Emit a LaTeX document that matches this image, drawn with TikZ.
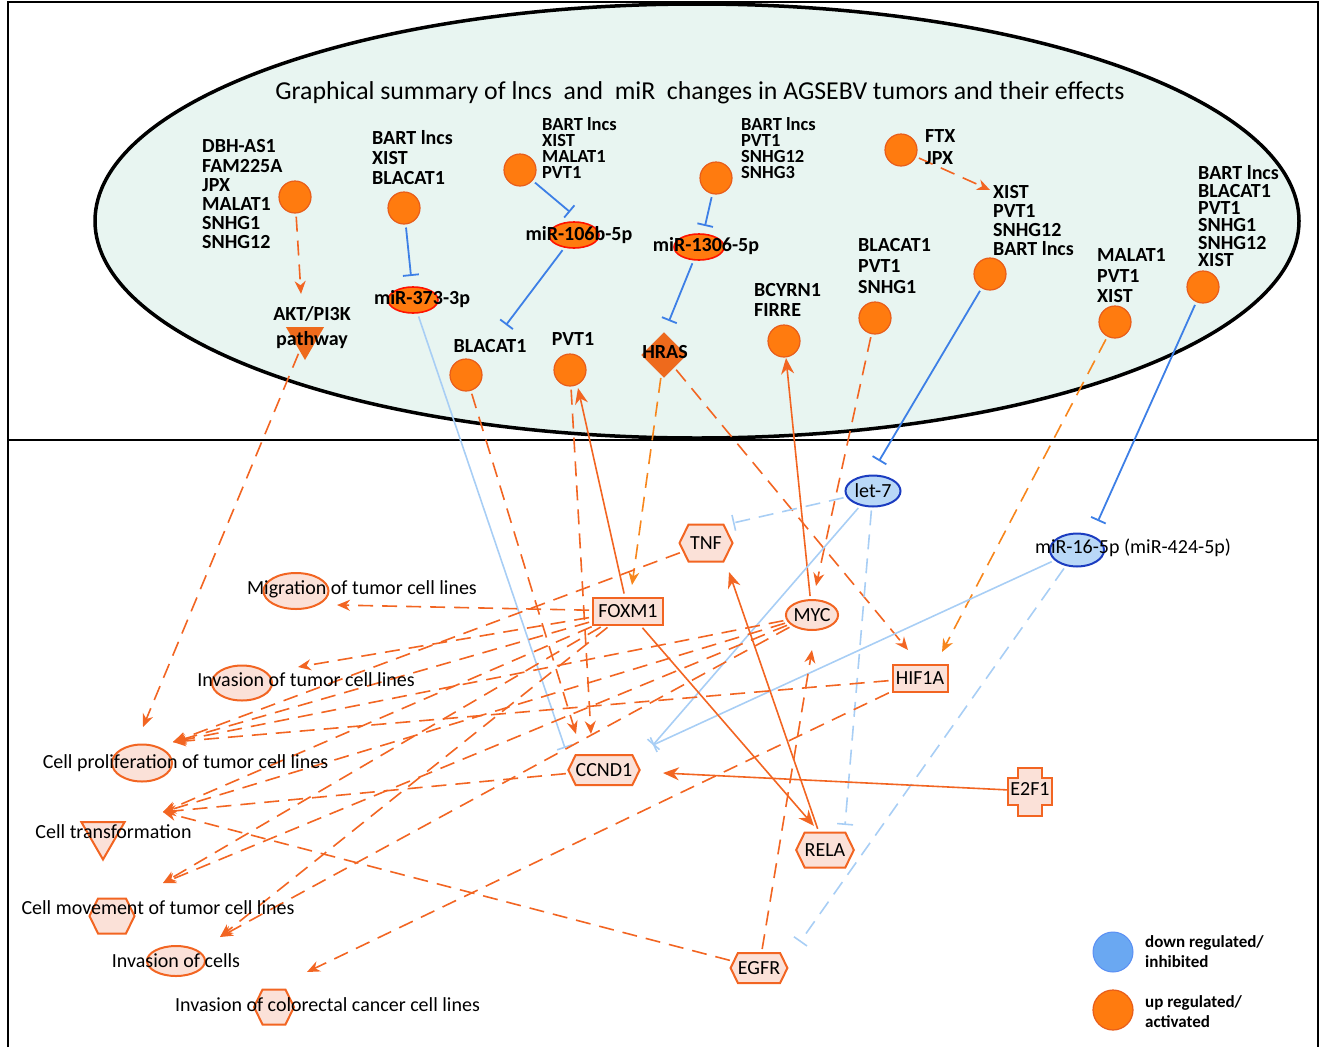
\documentclass[tikz,border=0pt]{standalone}
\usepackage{fontspec}
\setmainfont{Carlito}
\usetikzlibrary{arrows.meta,shapes.geometric,shapes.symbols}
\pgfdeclarelayer{bg}
\pgfdeclarelayer{edges}
\pgfsetlayers{bg,edges,main}
\definecolor{orline}{HTML}{F26522}
\definecolor{orlight}{HTML}{F7861C}
\definecolor{upfill}{HTML}{FF7B0F}
\definecolor{upedge}{HTML}{E85D1A}
\definecolor{nodefill}{HTML}{FBE1D8}
\definecolor{inhblue}{HTML}{3D7FE6}
\definecolor{inhlight}{HTML}{A8CEF5}
\definecolor{downfill}{HTML}{B9D8F7}
\definecolor{downedge}{HTML}{1B3CC0}
\definecolor{bubble}{HTML}{E8F5F1}
\definecolor{hrasfill}{HTML}{EE6A1C}
\definecolor{legblue}{HTML}{6AA8F2}

\begin{document}
\begin{tikzpicture}[x=1pt,y=-1pt,
  up/.style={circle,fill=upfill,draw=upedge,line width=1.2pt,minimum size=32pt,inner sep=0pt},
  mirna/.style={ellipse,fill=upfill,draw=red!85!orange,line width=1.6pt,minimum width=50pt,minimum height=26pt,inner sep=0pt},
  genes/.style={font=\fontsize{20}{#1}\selectfont\bfseries,align=left,inner sep=0pt,anchor=north west},
  tightgenes/.style={genes=16,font=\fontsize{18.5}{16}\selectfont\bfseries},
  lbl/.style={font=\fontsize{20}{20}\selectfont,inner sep=0pt,text height=13pt,text depth=4pt},
  boldlbl/.style={lbl,font=\fontsize{20}{20}\selectfont\bfseries},
  mol/.style={fill=nodefill,draw=orline,line width=2pt,inner sep=0pt,font=\fontsize{20}{20}\selectfont},
  box/.style={mol,rectangle,minimum width=#1,minimum height=27pt},
  hexa/.style={mol,signal,signal to=east and west,signal pointer angle=128,minimum width=#1},
  fnell/.style={ellipse,fill=nodefill,draw=orline,line width=2pt},
  down/.style={ellipse,fill=downfill,draw=downedge,line width=2pt,inner sep=0pt,font=\fontsize{20}{20}\selectfont},
  act/.style={draw=orline,line width=1.6pt,-{Stealth[length=16pt,width=13pt]},shorten <=3pt},
  dact/.style={act,dash pattern=on 15pt off 9pt,-{Stealth[length=13pt,width=11pt]}},
  dactl/.style={dact,draw=orlight},
  inh/.style={draw=inhblue,line width=1.8pt,-{Bar[width=16pt]},shorten <=3pt},
  inhl/.style={inh,draw=inhlight,line width=1.6pt},
  dinhl/.style={inhl,dash pattern=on 15pt off 9pt},
  legtxt/.style={font=\fontsize{17}{20}\selectfont\bfseries,align=left,anchor=west,inner sep=0pt}]
\useasboundingbox (0,0) rectangle (1322,1047);

% frame and bubble
\begin{pgfonlayer}{bg}
\draw[fill=bubble,line width=3.5pt] (697,221) ellipse [x radius=602,y radius=217];
\draw[line width=2.5pt] (8,1047) -- (8,2) -- (1318,2) -- (1318,1047);
\draw[line width=2.2pt] (8,440) -- (1318,440);
\end{pgfonlayer}

\node[font=\fontsize{25.8}{26}\selectfont] (title) at (700,93) {Graphical summary of lncs\ \ and\ \ miR\ \ changes in AGSEBV tumors and their effects};

% lncRNA groups
\node[up] (cA) at (295,197) {};
\node[genes=19.2] (lA) at (202,139.5) {DBH-AS1\\FAM225A\\JPX\\MALAT1\\SNHG1\\SNHG12};
\node[up] (cB) at (404,208) {};
\node[genes=20] (lB) at (372,130.5) {BART lncs\\XIST\\BLACAT1};
\node[up] (cC) at (520,170) {};
\node[tightgenes] (lC) at (542,117) {BART lncs\\XIST\\MALAT1\\PVT1};
\node[up] (cD) at (716,178) {};
\node[tightgenes] (lD) at (741,117) {BART lncs\\PVT1\\SNHG12\\SNHG3};
\node[up] (cE) at (901,150) {};
\node[genes=22] (lE) at (925,129.5) {FTX\\JPX};
\node[genes=19] (lX) at (993,185.5) {XIST\\PVT1\\SNHG12\\BART lncs};
\node[up] (cF) at (990,274) {};
\node[up] (cG) at (875,318) {};
\node[genes=21] (lG) at (858,238.5) {BLACAT1\\PVT1\\SNHG1};
\node[up] (cH) at (784,341) {};
\node[genes=20] (lH) at (754,283.5) {BCYRN1\\FIRRE};
\node[up] (cI) at (1115,322) {};
\node[genes=20.5] (lI) at (1097,248.5) {MALAT1\\PVT1\\XIST};
\node[up] (cJ) at (1203,287) {};
\node[genes=17.4] (lJ) at (1198,165.5) {BART lncs\\BLACAT1\\PVT1\\SNHG1\\SNHG12\\XIST};
\node[up] (cK) at (466,375) {};
\node[boldlbl] (lK) at (490,348) {BLACAT1};
\node[up] (cL) at (570,370) {};
\node[boldlbl] (lL) at (573,341) {PVT1};

% miRNAs, pathway, HRAS
\node[mirna] (m373) at (413,300) {};
\node[boldlbl] (m373t) at (422,300) {miR-373-3p};
\node[mirna] (m106) at (574,235) {};
\node[boldlbl] (m106t) at (579,236) {miR-106b-5p};
\node[mirna] (m1306) at (699,247) {};
\node[boldlbl] (m1306t) at (706,247) {miR-1306-5p};
\node[regular polygon,regular polygon sides=3,shape border rotate=180,fill=hrasfill,inner sep=0pt,minimum size=44pt] (akt) at (305,338) {};
\node[font=\fontsize{20}{25}\selectfont\bfseries,align=center,inner sep=0pt] (aktt) at (312,328) {AKT/PI3K\\pathway};
\node[diamond,fill=hrasfill,draw=upedge,inner sep=0pt,minimum width=45pt,minimum height=45pt] (hras) at (664,355) {};
\node[boldlbl] (hrast) at (665,354) {HRAS};

% molecules
\node[hexa=53,minimum height=37pt] (tnf) at (706,543) {TNF};
\node[box=70] (foxm1) at (628,611) {FOXM1};
\node[mol,ellipse,minimum width=52pt,minimum height=30pt] (myc) at (812,615) {MYC};
\node[box=55] (hif1a) at (920,678) {HIF1A};
\node[hexa=70,minimum height=30pt] (ccnd1) at (604,770) {CCND1};
\node[hexa=53,minimum height=35pt] (rela) at (825,850) {RELA};
\node[hexa=52,minimum height=30pt] (egfr) at (759,968) {EGFR};
\draw[fill=nodefill,draw=orline,line width=2pt] (1018,768) -- (1042,768) -- (1042,778) -- (1052,778) -- (1052,805) -- (1042,805) -- (1042,816) -- (1018,816) -- (1018,805) -- (1008,805) -- (1008,778) -- (1018,778) -- cycle;
\node[lbl] (e2f1) at (1030,791) {E2F1};
\node[down,minimum width=55pt,minimum height=31pt] (let7) at (873,491) {let-7};
\node[down,minimum width=54pt,minimum height=33pt] (mir16) at (1077,550) {};
\node[lbl] (mir16t) at (1133,549) {miR-16-5p (miR-424-5p)};

% functions
\node[fnell,minimum width=65pt,minimum height=36pt] (mig) at (296,591) {};
\node[lbl] (migt) at (362,590) {Migration of tumor cell lines};
\node[fnell,minimum width=60pt,minimum height=35pt] (invt) at (242,683) {};
\node[lbl] (invtt) at (306,682) {Invasion of tumor cell lines};
\node[fnell,minimum width=60pt,minimum height=37pt] (prolif) at (142,763) {};
\node[lbl] (prolift) at (185.5,764) {Cell proliferation of tumor cell lines};
\node[regular polygon,regular polygon sides=3,shape border rotate=180,fill=nodefill,draw=orline,line width=2pt,inner sep=0pt,minimum size=50pt] (transf) at (103,834.5) {};
\node[lbl] (transft) at (113.5,834) {Cell transformation};
\node[mol,signal,signal to=east and west,signal pointer angle=128,minimum width=45pt,minimum height=35pt] (move) at (112,916) {};
\node[lbl] (movet) at (158,910) {Cell movement of tumor cell lines};
\node[fnell,minimum width=58pt,minimum height=30pt] (invc) at (176,961) {};
\node[lbl] (invct) at (176,963) {Invasion of cells};
\node[mol,signal,signal to=east and west,signal pointer angle=128,minimum width=40pt,minimum height=35pt] (colo) at (274,1007) {};
\node[lbl] (colot) at (327.5,1007) {Invasion of colorectal cancer cell lines};

% legend
\node[circle,fill=legblue,draw=legblue!85!blue,line width=1pt,minimum size=40pt] (legdown) at (1113,952) {};
\node[legtxt] (legdownt) at (1145,952) {down regulated/\\inhibited};
\node[up,minimum size=40pt] (legup) at (1113,1010) {};
\node[legtxt] (leguptt) at (1145,1012) {up regulated/\\activated};

% arrow ends
\coordinate (aktIn) at (301,294);
\coordinate (xistIn) at (990,190);
\coordinate (m373Bar) at (411,276);
\coordinate (m106Bar) at (570,212);
\coordinate (m1306Bar) at (705,226);
\coordinate (blacBar) at (506,325);
\coordinate (hrasBar) at (669,321);
\coordinate (let7Bar) at (879,461);
\coordinate (mir16Bar) at (1098,521);
\coordinate (ccndBarA) at (565,748);
\coordinate (ccndBarB) at (653,745);
\coordinate (ccndInA) at (576,734);
\coordinate (ccndInB) at (591,734);
\coordinate (ccndIn) at (663,773);
\coordinate (pvtIn) at (578,388);
\coordinate (foxIn) at (632,585);
\coordinate (hifInA) at (908,650);
\coordinate (hifInB) at (942,652);
\coordinate (mycInTop) at (816,586);
\coordinate (mycInBot) at (812,650);
\coordinate (bcyIn) at (786,358);
\coordinate (tnfBar) at (733,523);
\coordinate (tnfIn) at (729,572);
\coordinate (relaBar) at (845,825);
\coordinate (relaIn) at (814,826);
\coordinate (egfrBar) at (800,942);
\coordinate (prolifTop) at (143,727);
\coordinate (migIn) at (337,605);
\coordinate (invtIn) at (298,667);
\coordinate (prolifIn) at (173,742);
\coordinate (transfIn) at (163,812);
\coordinate (moveIn) at (163,883);
\coordinate (invcIn) at (220,937);
\coordinate (coloIn) at (307,972);

\begin{pgfonlayer}{edges}
% upper part
\draw[dact] (cA) -- (aktIn);
\draw[dact] (cE) -- (xistIn);
\draw[inh] (cB) -- (m373Bar);
\draw[inh] (cC) -- (m106Bar);
\draw[inh] (cD) -- (m1306Bar);
\draw[inh] (m106) -- (blacBar);
\draw[inh] (m1306) -- (hrasBar);
\draw[inh] (cF) -- (let7Bar);
\draw[inh] (cJ) -- (mir16Bar);
\draw[inhl] (m373) -- (ccndBarA);
\draw[dact] (akt) -- (prolifTop);
\draw[dact] (cK) -- (ccndInA);
\draw[dact] (cL) -- (ccndInB);
\draw[act] (foxm1) -- (pvtIn);
\draw[dactl] (hras) -- (foxIn);
\draw[dact] (hras) -- (hifInA);
\draw[dactl] (cI) -- (hifInB);
\draw[dact] (cG) -- (mycInTop);
\draw[act] (myc) -- (bcyIn);
% lower part
\draw[dinhl] (let7) -- (tnfBar);
\draw[inhl] (let7) -- (ccndBarB);
\draw[inhl] (mir16) -- (ccndBarB);
\draw[dinhl] (let7) -- (relaBar);
\draw[dinhl] (mir16) -- (egfrBar);
\draw[act] (foxm1) -- (relaIn);
\draw[act] (rela) -- (tnfIn);
\draw[act] (e2f1) -- (ccndIn);
\draw[dact] (egfr) -- (mycInBot);
\foreach \t in {migIn,invtIn,prolifIn,transfIn,moveIn,invcIn}
  \draw[dact] (foxm1) -- (\t);
\foreach \t in {prolifIn,transfIn,moveIn,invcIn}
  \draw[dact] (myc) -- (\t);
\draw[dact] (hif1a) -- (prolifIn);
\draw[dact] (hif1a) -- (coloIn);
\draw[dact] (tnf) -- (prolifIn);
\draw[dact] (ccnd1) -- (transfIn);
\draw[dact] (egfr) -- (transfIn);
\end{pgfonlayer}
\end{tikzpicture}
\end{document}
